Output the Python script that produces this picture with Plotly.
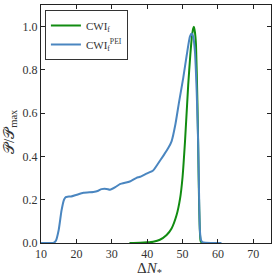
import plotly.graph_objects as go

# CWI_f^PEI (blue)
x_pei = [10, 12, 13.5, 14.2, 15, 15.8, 16.5, 17.0, 17.5, 18.5, 20.1, 22, 24.8, 26, 27.1, 28.5, 29.5, 31, 32.3, 35.1, 37, 38, 40, 41.7, 43, 44.6, 46, 46.9, 48, 49, 50.2, 51.2, 52.1, 52.6, 53.0, 53.5, 54.0, 54.4, 54.7, 54.9, 55.2, 55.6, 56.5, 58, 61]
y_pei = [0, 0, 0, 0.01, 0.06, 0.15, 0.2, 0.212, 0.214, 0.215, 0.223, 0.232, 0.236, 0.240, 0.249, 0.250, 0.246, 0.258, 0.272, 0.284, 0.301, 0.306, 0.322, 0.335, 0.365, 0.404, 0.44, 0.47, 0.55, 0.65, 0.763, 0.87, 0.955, 0.968, 0.955, 0.885, 0.70, 0.47, 0.2, 0.06, 0.015, 0.004, 0.001, 0, 0]

# CWI_f (green)
x_cwi = [35, 38, 40, 41.7, 43.6, 45.5, 46.9, 48.3, 49.3, 50.0, 50.7, 51.6, 52.2, 52.6, 53.0, 53.2, 53.5, 53.8, 54.2, 54.4, 54.7, 55.1, 55.5, 56]
y_cwi = [0, 0.001, 0.003, 0.006, 0.015, 0.037, 0.067, 0.128, 0.205, 0.304, 0.47, 0.73, 0.87, 0.946, 0.99, 1.0, 0.975, 0.917, 0.656, 0.47, 0.167, 0.01, 0.001, 0]

x_ticks = [10, 20, 30, 40, 50, 60, 70]
y_ticks = [0.0, 0.2, 0.4, 0.6, 0.8, 1.0]

font = "Liberation Serif, DejaVu Serif, serif"

fig = go.Figure()
fig.add_trace(go.Scatter(x=x_cwi, y=y_cwi, mode="lines", name="CWI<sub>f</sub>",
                         line=dict(color="#118c11", width=2, shape="spline", smoothing=0.5)))
fig.add_trace(go.Scatter(x=x_pei, y=y_pei, mode="lines", name="CWI<sub>f</sub><sup>PEI</sup>",
                         line=dict(color="#4a86c0", width=2, shape="spline", smoothing=0.5)))

axis_common = dict(showgrid=False, zeroline=False, showline=True, linecolor="#222", linewidth=1,
                   mirror="allticks", ticks="inside", ticklen=4, tickcolor="#222",
                   tickfont=dict(family=font, size=12, color="#333"))

fig.update_layout(
    width=277, height=280,
    margin=dict(l=41, r=6, t=5, b=37),
    paper_bgcolor="white", plot_bgcolor="white",
    font=dict(family=font, color="#333"),
    showlegend=True,
    legend=dict(x=0.017, y=0.979, xanchor="left", yanchor="top",
                bordercolor="#333", borderwidth=1, bgcolor="white",
                font=dict(family=font, size=11, color="#333"),
                itemwidth=30, tracegroupgap=0),
    xaxis=dict(range=[10, 75], tickvals=x_ticks, **axis_common),
    yaxis=dict(range=[0, 1.1], tickvals=y_ticks, tickformat=".1f", **axis_common),
    annotations=[
        dict(text="Δ<i>N</i><sub>*</sub>", xref="paper", yref="paper", x=0.47, y=-0.065,
             xanchor="center", yanchor="top", showarrow=False,
             font=dict(family=font, size=15, color="#333")),
        dict(text="𝒫/𝒫<sub>max</sub>", xref="paper", yref="paper", x=-0.088, y=0.47,
             xanchor="right", yanchor="middle", textangle=-90, showarrow=False,
             font=dict(family=font, size=15, color="#333")),
    ],
)

fig.write_html("out.html", config={"displayModeBar": False},
               post_script="document.body.style.margin='0';document.body.style.padding='0';")
